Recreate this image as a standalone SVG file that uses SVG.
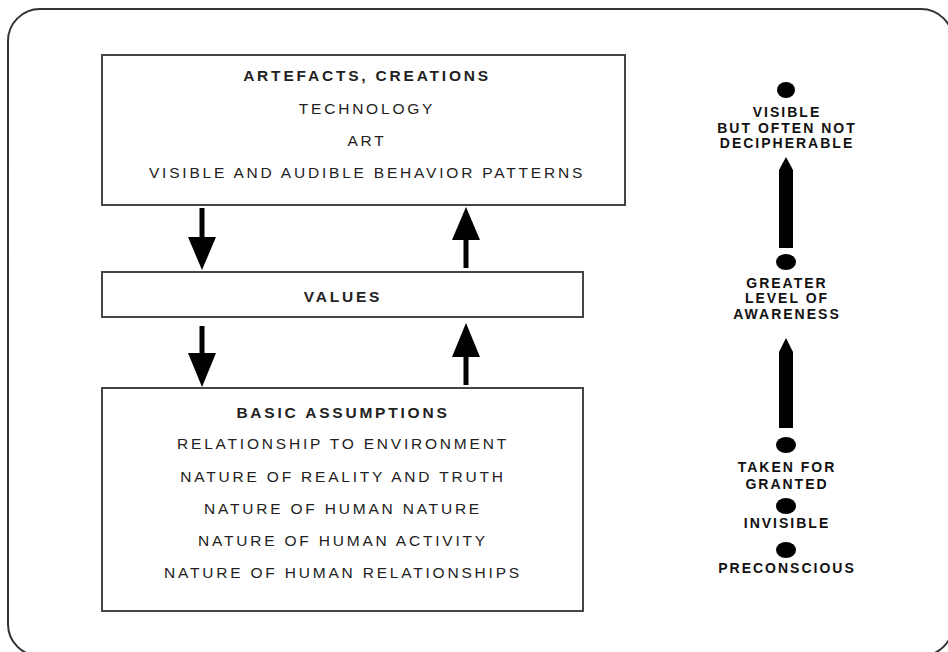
<svg xmlns="http://www.w3.org/2000/svg" width="948" height="652" viewBox="0 0 948 652">
  <defs>
    <style>
      .frame { fill: none; stroke: #333; stroke-width: 2; }
      .box { fill: #fff; stroke: #444; stroke-width: 2; }
      .t { font-family: "Liberation Sans", Arial, sans-serif; font-size: 15.5px; fill: #222; text-anchor: middle; letter-spacing: 2.8px; }
      .b { font-weight: bold; }
      .r { font-family: "Liberation Sans", Arial, sans-serif; font-size: 14px; font-weight: bold; fill: #111; text-anchor: middle; letter-spacing: 2px; }
      .shaft { stroke: #000; stroke-width: 5; }
      .head { fill: #000; }
      .dot { fill: #000; }
    </style>
  </defs>

  <rect class="frame" x="8" y="9" width="945" height="647" rx="32" ry="32"/>

  <g id="artefacts">
    <rect class="box" x="102" y="55" width="523" height="150"/>
    <text class="t b" x="367" y="81">ARTEFACTS,  CREATIONS</text>
    <text class="t" x="367" y="114">TECHNOLOGY</text>
    <text class="t" x="367" y="146">ART</text>
    <text class="t" x="367" y="178">VISIBLE AND AUDIBLE BEHAVIOR PATTERNS</text>
  </g>

  <g id="values">
    <rect class="box" x="102" y="272" width="481" height="45"/>
    <text class="t b" x="343" y="302">VALUES</text>
  </g>

  <g id="assumptions">
    <rect class="box" x="102" y="388" width="481" height="223"/>
    <text class="t b" x="343" y="418">BASIC ASSUMPTIONS</text>
    <text class="t" x="343" y="449">RELATIONSHIP TO ENVIRONMENT</text>
    <text class="t" x="343" y="482">NATURE OF REALITY AND TRUTH</text>
    <text class="t" x="343" y="514">NATURE OF HUMAN NATURE</text>
    <text class="t" x="343" y="546">NATURE OF HUMAN ACTIVITY</text>
    <text class="t" x="343" y="578">NATURE OF HUMAN RELATIONSHIPS</text>
  </g>

  <g id="connectors">
    <!-- artefacts -> values -->
    <line class="shaft" x1="202" y1="208" x2="202" y2="240"/>
    <polygon class="head" points="188,237 216,237 202,270"/>
    <!-- values -> artefacts -->
    <line class="shaft" x1="466" y1="237" x2="466" y2="268"/>
    <polygon class="head" points="452,240 480,240 466,207"/>
    <!-- values -> assumptions -->
    <line class="shaft" x1="202" y1="326" x2="202" y2="356"/>
    <polygon class="head" points="188,353 216,353 202,387"/>
    <!-- assumptions -> values -->
    <line class="shaft" x1="466" y1="354" x2="466" y2="385"/>
    <polygon class="head" points="452,357 480,357 466,323"/>
  </g>

  <g id="awareness-scale">
    <ellipse class="dot" cx="786" cy="90" rx="9" ry="8"/>
    <text class="r" x="787" y="117">VISIBLE</text>
    <text class="r" x="787" y="133">BUT OFTEN NOT</text>
    <text class="r" x="787" y="148">DECIPHERABLE</text>

    <polygon class="head" points="786,157 793,170 793,248 779,248 779,170"/>
    <ellipse class="dot" cx="786" cy="262" rx="10" ry="8"/>

    <text class="r" x="787" y="288">GREATER</text>
    <text class="r" x="787" y="303">LEVEL OF</text>
    <text class="r" x="787" y="319">AWARENESS</text>

    <polygon class="head" points="786,338 793,352 793,428 779,428 779,352"/>
    <ellipse class="dot" cx="786" cy="445" rx="10" ry="8"/>

    <text class="r" x="787" y="472">TAKEN FOR</text>
    <text class="r" x="787" y="489">GRANTED</text>
    <ellipse class="dot" cx="786" cy="506" rx="10" ry="8"/>
    <text class="r" x="787" y="528">INVISIBLE</text>
    <ellipse class="dot" cx="786" cy="550" rx="10" ry="8"/>
    <text class="r" x="787" y="573">PRECONSCIOUS</text>
  </g>
</svg>
